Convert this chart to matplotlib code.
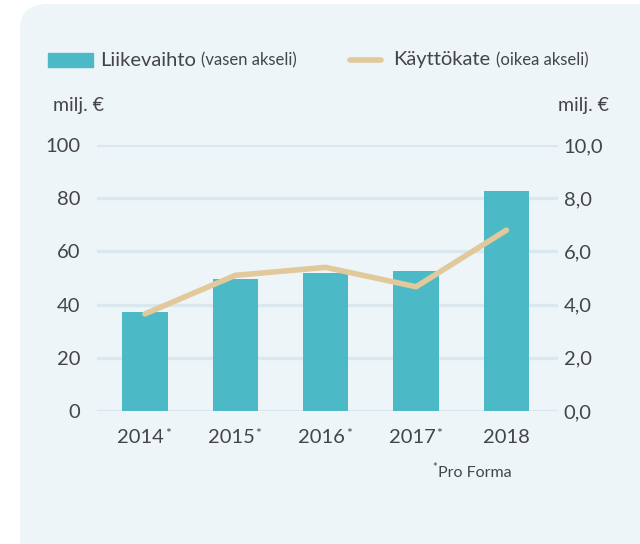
import matplotlib
matplotlib.use('Agg')
import matplotlib.pyplot as plt
from matplotlib.patches import FancyBboxPatch

years = ['2014', '2015', '2016', '2017', '2018']
pro_forma = [True, True, True, True, False]
liikevaihto = [37.3, 49.6, 51.8, 52.5, 82.7]   # milj. €, vasen akseli
kayttokate = [3.65, 5.1, 5.4, 4.67, 6.8]        # milj. €, oikea akseli
left_ticks = [0, 20, 40, 60, 80, 100]
right_ticks = ['0,0', '2,0', '4,0', '6,0', '8,0', '10,0']

teal = '#4bbac6'
beige = '#e2c99b'
txt = '#454545'
plt.rcParams['font.family'] = ['Lato', 'DejaVu Sans']

fig = plt.figure(figsize=(6.4, 5.44), dpi=100)
fig.patch.set_facecolor('white')
panel = FancyBboxPatch((20 / 640, -0.2), 1.2, 1.2 - 4 / 544,
                       boxstyle='round,pad=0,rounding_size=0.045',
                       transform=fig.transFigure, facecolor='#edf5f9',
                       edgecolor='none', zorder=-10)
fig.patches.append(panel)

ax = fig.add_axes([97 / 640, 133 / 544, 461 / 640, 266 / 544])
ax.set_facecolor('none')
x = list(range(len(years)))
ax.bar(x, liikevaihto, width=0.5, color=teal, zorder=2)
ax.set_xlim(-0.53, 4.57)
ax.set_ylim(0, 100)
ax.set_yticks(left_ticks)
ax.grid(axis='y', color='#dbe7ee', linewidth=2.4, zorder=0)
ax.tick_params(length=0, labelsize=14.5, labelcolor=txt, pad=12)
ax.set_xticks([])
for s in ax.spines.values():
    s.set_visible(False)

ax2 = ax.twinx()
ax2.plot(x, kayttokate, color=beige, linewidth=4, solid_capstyle='round',
         solid_joinstyle='round', zorder=3)
ax2.set_ylim(0, 10)
ax2.set_yticks(range(0, 11, 2))
ax2.set_yticklabels(right_ticks)
ax2.tick_params(length=0, labelsize=14.5, labelcolor=txt, pad=4)
for s in ax2.spines.values():
    s.set_visible(False)

# year labels with pro forma asterisk
for i, y in enumerate(years):
    t = ax.annotate(y, (i, 0), xytext=(-3 if pro_forma[i] else 0, -19),
                    textcoords='offset points', ha='center', va='center',
                    fontsize=14.5, color=txt, annotation_clip=False)
    if pro_forma[i]:
        ax.annotate('*', xy=(1, 1), xycoords=t, xytext=(0.5, -4),
                    textcoords='offset points', ha='left', va='center',
                    fontsize=10, color=txt)

fig.text(438 / 640, 1 - 473 / 544, 'Pro Forma', fontsize=11.5, color=txt, va='center')
fig.text(432 / 640, 1 - 468 / 544, '*', fontsize=8, color=txt, va='center')

# units
fig.text(53 / 640, 1 - 105 / 544, 'milj. €', fontsize=14, color=txt, va='center')
fig.text(609 / 640, 1 - 105 / 544, 'milj. €', fontsize=14, color=txt, va='center', ha='right')

# legend
ly = 1 - 60 / 544
fig.patches.append(plt.Rectangle((48 / 640, 1 - 67 / 544), 45 / 640, 14 / 544,
                                 transform=fig.transFigure, color=teal))
t1 = fig.text(100 / 640, ly, 'Liikevaihto', fontsize=14.5, color=txt, va='center')
ax.annotate('(vasen akseli)', xy=(1, 0.5), xycoords=t1, xytext=(4, -0.5),
            textcoords='offset points', ha='left', va='center', fontsize=12, color=txt)
fig.lines.append(plt.Line2D([350 / 640, 381 / 640], [ly, ly], transform=fig.transFigure,
                            color=beige, linewidth=4, solid_capstyle='round'))
t2 = fig.text(393 / 640, ly, 'Käyttökate', fontsize=14.5, color=txt, va='center')
ax.annotate('(oikea akseli)', xy=(1, 0.5), xycoords=t2, xytext=(4, -0.5),
            textcoords='offset points', ha='left', va='center', fontsize=12, color=txt)

fig.savefig('out.png', dpi=100)
